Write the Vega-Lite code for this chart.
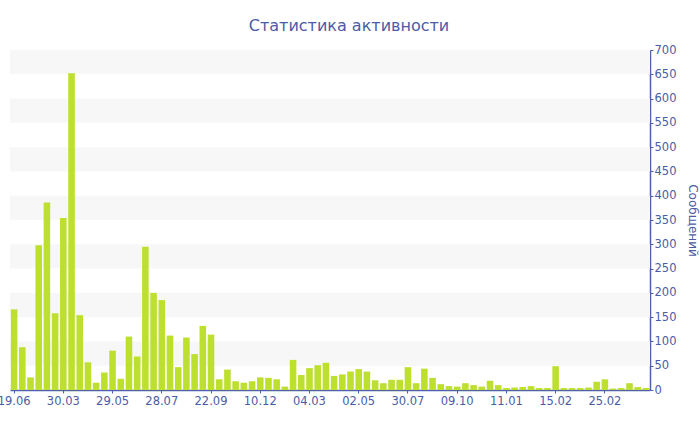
{
  "$schema": "https://vega.github.io/schema/vega-lite/v6.json",
  "autosize": "none",
  "width": 640,
  "height": 340,
  "padding": {"left": 10, "top": 50, "right": 50, "bottom": 40},
  "background": "#ffffff",
  "title": {
    "text": "Статистика активности",
    "anchor": "middle",
    "frame": "group",
    "dx": 19,
    "offset": 10,
    "font": "DejaVu Sans",
    "fontSize": 16,
    "fontWeight": "normal",
    "color": "#4a5ca6"
  },
  "config": {
    "view": {"stroke": null},
    "axis": {
      "labelFont": "DejaVu Sans",
      "labelFontSize": 11.5,
      "labelColor": "#4a5ca6",
      "titleFont": "DejaVu Sans",
      "titleFontSize": 12,
      "titleFontWeight": "normal",
      "titleColor": "#4a5ca6",
      "domainColor": "#4e62aa",
      "tickColor": "#4e62aa",
      "grid": false
    }
  },
  "layer": [
    {
      "data": {
        "values": [
          {"lo": 50, "hi": 100},
          {"lo": 150, "hi": 200},
          {"lo": 250, "hi": 300},
          {"lo": 350, "hi": 400},
          {"lo": 450, "hi": 500},
          {"lo": 550, "hi": 600},
          {"lo": 650, "hi": 700}
        ]
      },
      "mark": {"type": "rect", "fill": "#f7f7f7"},
      "encoding": {
        "y": {
          "field": "lo",
          "type": "quantitative",
          "scale": {"domain": [0, 700]},
          "axis": {
            "orient": "right",
            "title": "Сообщений",
            "values": [0, 50, 100, 150, 200, 250, 300, 350, 400, 450, 500, 550, 600, 650, 700],
            "tickSize": 3,
            "labelPadding": 1,
            "titlePadding": 10,
            "domainWidth": 1.5
          }
        },
        "y2": {"field": "hi"}
      }
    },
    {
      "data": {
        "values": [
          {"i": 0, "v": 166}, {"i": 1, "v": 88}, {"i": 2, "v": 26}, {"i": 3, "v": 298},
          {"i": 4, "v": 386}, {"i": 5, "v": 158}, {"i": 6, "v": 354}, {"i": 7, "v": 652},
          {"i": 8, "v": 154}, {"i": 9, "v": 57}, {"i": 10, "v": 15}, {"i": 11, "v": 36},
          {"i": 12, "v": 81}, {"i": 13, "v": 23}, {"i": 14, "v": 110}, {"i": 15, "v": 69},
          {"i": 16, "v": 295}, {"i": 17, "v": 200}, {"i": 18, "v": 185}, {"i": 19, "v": 112},
          {"i": 20, "v": 47}, {"i": 21, "v": 108}, {"i": 22, "v": 74}, {"i": 23, "v": 132},
          {"i": 24, "v": 114}, {"i": 25, "v": 22}, {"i": 26, "v": 42}, {"i": 27, "v": 18},
          {"i": 28, "v": 15}, {"i": 29, "v": 18}, {"i": 30, "v": 26}, {"i": 31, "v": 25},
          {"i": 32, "v": 22}, {"i": 33, "v": 7}, {"i": 34, "v": 62}, {"i": 35, "v": 31},
          {"i": 36, "v": 45}, {"i": 37, "v": 51}, {"i": 38, "v": 56}, {"i": 39, "v": 29},
          {"i": 40, "v": 32}, {"i": 41, "v": 38}, {"i": 42, "v": 43}, {"i": 43, "v": 38},
          {"i": 44, "v": 20}, {"i": 45, "v": 14}, {"i": 46, "v": 21}, {"i": 47, "v": 21},
          {"i": 48, "v": 47}, {"i": 49, "v": 14}, {"i": 50, "v": 44}, {"i": 51, "v": 25},
          {"i": 52, "v": 12}, {"i": 53, "v": 8}, {"i": 54, "v": 7}, {"i": 55, "v": 14},
          {"i": 56, "v": 10}, {"i": 57, "v": 7}, {"i": 58, "v": 19}, {"i": 59, "v": 10},
          {"i": 60, "v": 4}, {"i": 61, "v": 5}, {"i": 62, "v": 6}, {"i": 63, "v": 8},
          {"i": 64, "v": 4}, {"i": 65, "v": 4}, {"i": 66, "v": 49}, {"i": 67, "v": 4},
          {"i": 68, "v": 4}, {"i": 69, "v": 4}, {"i": 70, "v": 5}, {"i": 71, "v": 17},
          {"i": 72, "v": 22}, {"i": 73, "v": 3}, {"i": 74, "v": 4}, {"i": 75, "v": 14},
          {"i": 76, "v": 6}, {"i": 77, "v": 4}
        ]
      },
      "mark": {"type": "bar", "fill": "#bddf2e"},
      "encoding": {
        "x": {
          "field": "i",
          "type": "ordinal",
          "scale": {"paddingInner": 0.2, "paddingOuter": 0.1},
          "axis": {
            "title": null,
            "values": [0, 6, 12, 18, 24, 30, 36, 42, 48, 54, 60, 66, 72],
            "labelExpr": "{'0':'19.06','6':'30.03','12':'29.05','18':'28.07','24':'22.09','30':'10.12','36':'04.03','42':'02.05','48':'30.07','54':'09.10','60':'11.01','66':'15.02','72':'25.02'}[datum.label]",
            "labelAngle": 0,
            "tickSize": 3,
            "labelPadding": 2,
            "domainWidth": 1.5
          }
        },
        "y": {
          "field": "v",
          "type": "quantitative",
          "scale": {"domain": [0, 700]},
          "axis": {
            "orient": "right",
            "title": "Сообщений",
            "values": [0, 50, 100, 150, 200, 250, 300, 350, 400, 450, 500, 550, 600, 650, 700],
            "tickSize": 3,
            "labelPadding": 1,
            "titlePadding": 10,
            "domainWidth": 1.5
          }
        }
      }
    }
  ]
}
